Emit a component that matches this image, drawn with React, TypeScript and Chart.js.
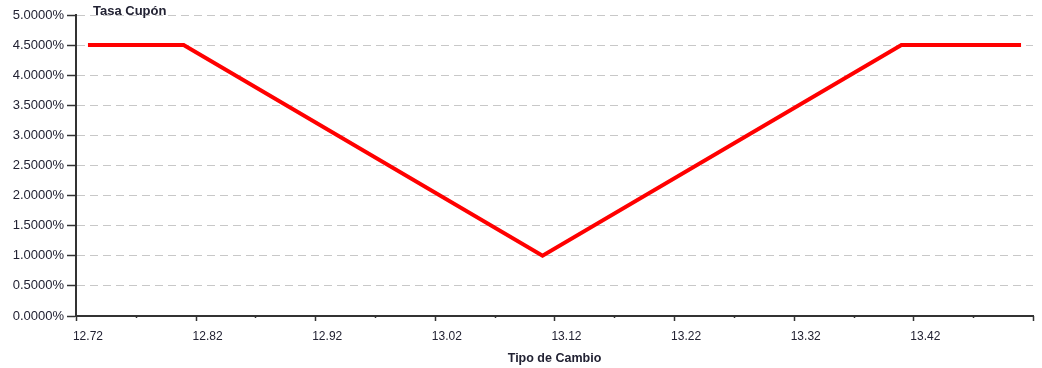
import React, { useEffect, useRef } from "react";
import { Chart, registerables } from "chart.js";

Chart.register(...registerables);

const exchangeRates = [12.72, 12.8, 13.1, 13.4, 13.5];
const couponRates = [4.5, 4.5, 1.0, 4.5, 4.5];
const xLabelValues = [12.72, 12.82, 12.92, 13.02, 13.12, 13.22, 13.32, 13.42];
const xMarkValues = [12.71, 12.76, 12.81, 12.86, 12.91, 12.96, 13.01, 13.06, 13.11, 13.16, 13.21, 13.26, 13.31, 13.36, 13.41, 13.46, 13.51];
const chartTitle = "Tasa Cupón";
const xTitle = "Tipo de Cambio";

const FONT = "'Liberation Sans', Arial, sans-serif";
const TEXT = "#222233";

const overlayPlugin = {
  id: "overlay",
  afterDraw(chart: any) {
    const ctx = chart.ctx;
    const xs = chart.scales.x;
    const area = chart.chartArea;
    ctx.save();
    ctx.strokeStyle = "#333333";
    ctx.lineWidth = 1.5;
    xMarkValues.forEach((v, i) => {
      const px = Math.round(xs.getPixelForValue(v)) + 0.5;
      const len = i % 2 === 0 ? 5 : 2;
      ctx.beginPath();
      ctx.moveTo(px, area.bottom);
      ctx.lineTo(px, area.bottom + len);
      ctx.stroke();
    });
    ctx.fillStyle = TEXT;
    ctx.font = `bold 13px ${FONT}`;
    ctx.textBaseline = "alphabetic";
    ctx.textAlign = "left";
    ctx.fillText(chartTitle, area.left + 17, 15);
    ctx.restore();
  },
};

export default function App() {
  const ref = useRef<HTMLCanvasElement>(null);
  useEffect(() => {
    if (!ref.current) return;
    const chart = new Chart(ref.current, {
      type: "line",
      data: {
        datasets: [
          {
            data: exchangeRates.map((x, i) => ({ x, y: couponRates[i] })),
            borderColor: "#ff0000",
            borderWidth: 4,
            pointRadius: 0,
            tension: 0,
            borderCapStyle: "butt",
            borderJoinStyle: "miter",
          },
        ],
      },
      options: {
        animation: false,
        responsive: false,
        maintainAspectRatio: false,
        layout: { padding: { top: 15, right: 9, left: 0, bottom: 0 } },
        plugins: { legend: { display: false }, tooltip: { enabled: false }, title: { display: false } },
        scales: {
          x: {
            type: "linear",
            min: 12.71,
            max: 13.51,
            afterBuildTicks: (s: any) => {
              s.ticks = xLabelValues.map((v) => ({ value: v }));
            },
            afterFit: (s: any) => {
              s.height = 52;
            },
            grid: { display: false, drawOnChartArea: false },
            border: { display: true, color: "#333333", width: 2 },
            ticks: {
              autoSkip: false,
              maxRotation: 0,
              padding: 5,
              color: TEXT,
              font: { family: FONT, size: 12 },
              callback: (v: any) => Number(v).toFixed(2),
            },
            title: {
              display: true,
              text: xTitle,
              color: TEXT,
              font: { family: FONT, size: 12.5, weight: "bold" },
              padding: { top: 4, bottom: 2 },
            },
          },
          y: {
            min: 0,
            max: 5,
            afterFit: (s: any) => {
              s.width = 76;
            },
            ticks: {
              stepSize: 0.5,
              padding: 3,
              color: TEXT,
              font: { family: FONT, size: 13 },
              callback: (v: any) => Number(v).toFixed(4) + "%",
            },
            grid: {
              color: "#c8c8c8",
              lineWidth: 1,
              tickLength: 9,
              tickColor: "#333333",
              tickWidth: 1.5,
              tickBorderDash: [],
            } as any,
            border: { display: true, color: "#333333", width: 2, dash: [8, 5] },
          },
        },
      },
      plugins: [overlayPlugin],
    } as any);
    return () => chart.destroy();
  }, []);
  return (
    <div style={{ position: "fixed", left: 0, top: 0, width: 1042, height: 368, background: "#fff" }}>
      <canvas ref={ref} width={1042} height={368} style={{ width: 1042, height: 368, display: "block" }} />
    </div>
  );
}
